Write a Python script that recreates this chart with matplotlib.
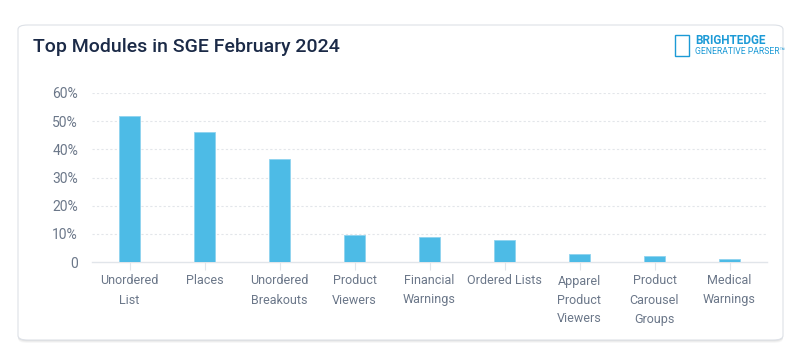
import numpy as np
import matplotlib
matplotlib.use('Agg')
import matplotlib.pyplot as plt
from matplotlib.patches import FancyBboxPatch, Rectangle

plt.rcParams['font.family'] = ['Roboto', 'DejaVu Sans']

# data
categories = ['Unordered\nList', 'Places', 'Unordered\nBreakouts', 'Product\nViewers',
              'Financial\nWarnings', 'Ordered Lists', 'Apparel\nProduct\nViewers',
              'Product\nCarousel\nGroups', 'Medical\nWarnings']
shares = [52.0, 46.2, 36.5, 9.6, 8.9, 7.7, 2.8, 2.1, 1.1]
yticks = [0, 10, 20, 30, 40, 50, 60]
ytick_labels = ['0', '10%', '20%', '30%', '40%', '50%', '60%']

bar_color = '#4dbbe6'
text_gray = '#6b7789'
W, H = 800, 361

fig = plt.figure(figsize=(8, 3.61), dpi=100)
fig.patch.set_facecolor('white')

# card with shadow
for i, a in enumerate([0.03, 0.04, 0.05]):
    sh = FancyBboxPatch((18 / W, (H - 343 + i) / H), 765 / W, (318 - i) / H,
                        boxstyle='round,pad=0,rounding_size=0.012',
                        transform=fig.transFigure, facecolor='black', alpha=a,
                        edgecolor='none', zorder=0)
    fig.patches.append(sh)
card = FancyBboxPatch((18 / W, (H - 340) / H), 765 / W, 315 / H,
                      boxstyle='round,pad=0,rounding_size=0.012',
                      transform=fig.transFigure, facecolor='white',
                      edgecolor='#dde1e7', linewidth=0.8, zorder=1)
fig.patches.append(card)

fig.text(33 / W, 1 - 47 / H, 'Top Modules in SGE February 2024', fontsize=14,
         fontweight='medium', color='#1b2a47', va='center', ha='left', zorder=3)

# logo
logo_blue = '#1c9ad6'
fig.patches.append(Rectangle((675 / W, 1 - 56 / H), 14 / W, 21 / H,
                             transform=fig.transFigure, facecolor='none',
                             edgecolor=logo_blue, linewidth=1.0, zorder=3))
fig.text(695 / W, 1 - 40 / H, 'BRIGHTEDGE', fontsize=8.5, fontweight='bold',
         color=logo_blue, va='center', ha='left', zorder=3)
fig.text(695 / W, 1 - 51 / H, 'GENERATIVE PARSER\u2122', fontsize=6.2,
         color=logo_blue, va='center', ha='left', zorder=3)

ax = fig.add_axes([92 / W, (H - 262) / H, 675 / W, (262 - 93) / H])
ax.set_zorder(2)
ax.patch.set_alpha(0)

x = np.arange(len(categories))
ax.bar(x, shares, width=0.27, color=bar_color, edgecolor='#8fd3ef',
       linewidth=0.6, zorder=3)

ax.set_xlim(-0.5, len(categories) - 0.5)
ax.set_ylim(0, 60)
ax.set_yticks(yticks)
ax.set_yticklabels(ytick_labels)
ax.set_xticks(x)
ax.set_xticklabels(categories, linespacing=1.6)

for yv in yticks[1:]:
    ax.axhline(yv, color='#e3e6ea', linewidth=0.8, linestyle=(0, (2, 2)), zorder=1)

for s in ['top', 'right', 'left']:
    ax.spines[s].set_visible(False)
ax.spines['bottom'].set_color('#e1e5ea')
ax.spines['bottom'].set_linewidth(1.0)

ax.tick_params(axis='y', length=0, pad=10, labelsize=10, labelcolor=text_gray)
ax.tick_params(axis='x', length=6, color='#e1e5ea', pad=3, labelsize=9,
               labelcolor=text_gray)

fig.savefig('out.png', dpi=100, facecolor='white')
